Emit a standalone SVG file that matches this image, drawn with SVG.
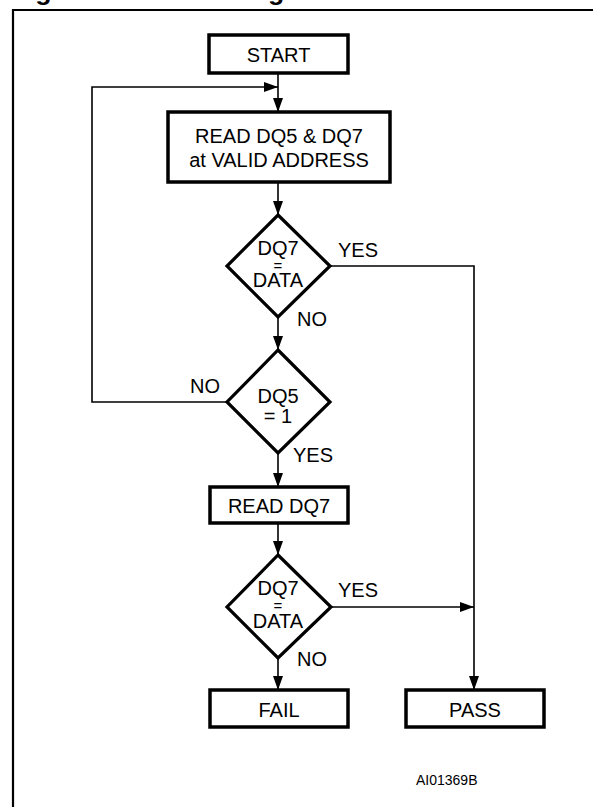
<svg xmlns="http://www.w3.org/2000/svg" width="593" height="807" viewBox="0 0 593 807">
<style>
text{font-family:"Liberation Sans",Arial,sans-serif;fill:#000}
.lbl{font-size:20px}
.eq{font-size:15px}
.c{text-anchor:middle}
.box{fill:#fff;stroke:#000;stroke-width:3.5}
.dia{fill:#fff;stroke:#000;stroke-width:3.2}
.ln{fill:none;stroke:#000;stroke-width:1.6}
.frame{fill:none;stroke:#000;stroke-width:2.2}
</style>
<defs>
<marker id="ah" viewBox="0 0 14 10" refX="14" refY="5" markerWidth="14" markerHeight="10" markerUnits="userSpaceOnUse" orient="auto">
<path d="M0,0 L14,5 L0,10 Z" fill="#000"/>
</marker>
</defs>
<rect width="593" height="807" fill="#fff"/>
<text x="11.5" y="-0.3" style="font-size:26.7px;font-weight:bold">Figure 8. Data Polling Flowchart</text>
<path class="frame" d="M13,807 V10 H593"/>
<g id="connectors">
<path class="ln" d="M278,73 V112" marker-end="url(#ah)"/>
<path class="ln" d="M227,402 H92 V87 H278" marker-end="url(#ah)"/>
<path class="ln" d="M278,182 V215" marker-end="url(#ah)"/>
<path class="ln" d="M278,317 V350" marker-end="url(#ah)"/>
<path class="ln" d="M278,453 V487" marker-end="url(#ah)"/>
<path class="ln" d="M278,523 V555" marker-end="url(#ah)"/>
<path class="ln" d="M278,658 V690" marker-end="url(#ah)"/>
<path class="ln" d="M330,266 H474 V690" marker-end="url(#ah)"/>
<path class="ln" d="M332,607 H474" marker-end="url(#ah)"/>
<text class="lbl" x="338" y="257">YES</text>
<text class="lbl" x="297" y="326">NO</text>
<text class="lbl" x="190" y="393">NO</text>
<text class="lbl" x="293" y="462">YES</text>
<text class="lbl" x="338" y="597">YES</text>
<text class="lbl" x="297" y="666">NO</text>
</g>
<g id="start">
<rect class="box" x="209" y="35" width="139" height="38"/>
<text class="lbl c" x="278.5" y="62">START</text>
</g>
<g id="read-dq5-dq7">
<rect class="box" x="168" y="112" width="222" height="70"/>
<text class="lbl c" x="279" y="143">READ DQ5 &amp; DQ7</text>
<text class="lbl c" x="279" y="167">at VALID ADDRESS</text>
</g>
<g id="dq7-data-1">
<path class="dia" d="M278,215 L330,266 L278,317 L227,266 Z"/>
<text class="lbl c" x="278" y="255">DQ7</text>
<text class="eq c" x="278" y="271">=</text>
<text class="lbl c" x="278" y="287">DATA</text>
</g>
<g id="dq5-1">
<path class="dia" d="M278,350 L330,402 L278,453 L227,402 Z"/>
<text class="lbl c" x="278" y="403">DQ5</text>
<text class="lbl c" x="278" y="423">= 1</text>
</g>
<g id="read-dq7">
<rect class="box" x="210" y="487" width="138" height="36"/>
<text class="lbl c" x="279" y="513">READ DQ7</text>
</g>
<g id="dq7-data-2">
<path class="dia" d="M278,555 L331,607 L278,658 L227,607 Z"/>
<text class="lbl c" x="278" y="595">DQ7</text>
<text class="eq c" x="278" y="611">=</text>
<text class="lbl c" x="278" y="628">DATA</text>
</g>
<g id="fail">
<rect class="box" x="210" y="690" width="138" height="37"/>
<text class="lbl c" x="279" y="717">FAIL</text>
</g>
<g id="pass">
<rect class="box" x="406" y="690" width="138" height="37"/>
<text class="lbl c" x="475" y="717">PASS</text>
</g>
<text x="416" y="785" style="font-size:14px">AI01369B</text>
</svg>
